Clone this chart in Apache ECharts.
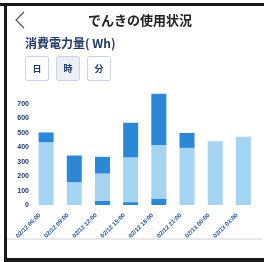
<!DOCTYPE html>
<html>
<head>
<meta charset="utf-8">
<script src="https://cdn.jsdelivr.net/npm/echarts@6/dist/echarts.min.js"></script>
<style>
  html, body { margin: 0; padding: 0; background: #fff; }
  #main { width: 264px; height: 262px; }
</style>
</head>
<body>
<div id="main"></div>
<script>
  // 時間帯
  var categories = ['02/12 06:00', '02/12 09:00', '02/12 12:00', '02/12 15:00',
                    '02/12 18:00', '02/12 21:00', '02/13 00:00', '02/13 03:00'];
  // 積み上げ（下・中・上）
  var lowData = [0, 0, 30, 20, 45, 0, 0, 0];
  var midData = [435, 158, 188, 310, 370, 396, 442, 473];
  var highData = [68, 185, 116, 240, 356, 104, 0, 0];
  var yTicks = [0, 100, 200, 300, 400, 500, 600, 700];
  var buttons = ['日', '時', '分'];

  var darkBlue = '#2c87d6';
  var lightBlue = '#a5d4f3';
  var navy = '#22396b';

  var btnGraphics = buttons.map(function (b, i) {
    return {
      type: 'group',
      left: 25 + i * 31,
      top: 56,
      children: [
        {
          type: 'rect',
          shape: { x: 0, y: 0, width: 23, height: 24, r: 2 },
          style: { fill: i === 1 ? '#eceff4' : '#fff', stroke: '#c8d2e4', lineWidth: 1 }
        },
        {
          type: 'text',
          x: 11.5, y: 12,
          style: { text: b, font: 'bold 9px "Noto Sans CJK JP"', fill: navy, align: 'center', verticalAlign: 'middle' }
        }
      ]
    };
  });

  var chart = echarts.init(document.getElementById('main'));
  chart.setOption({
    animation: false,
    backgroundColor: '#fff',
    grid: { left: 32, right: 6.5, top: 89.6, bottom: 57 },
    xAxis: {
      type: 'category',
      data: categories,
      axisLine: { show: false },
      axisTick: { show: false },
      axisLabel: {
        rotate: 45,
        interval: 0,
        margin: 3,
        padding: [0, 9, 0, 0],
        fontSize: 6,
        fontWeight: 'bold',
        color: '#1f4f9a'
      }
    },
    yAxis: {
      type: 'value',
      min: 0,
      max: 800,
      interval: 100,
      splitLine: { show: false },
      axisLine: { show: false },
      axisTick: { show: false },
      axisLabel: {
        margin: 3,
        fontSize: 7,
        fontWeight: 'bold',
        color: navy,
        showMaxLabel: false,
        formatter: function (v) { return yTicks.indexOf(v) >= 0 ? String(v) : ''; }
      }
    },
    series: [
      { name: 'low', type: 'bar', stack: 'w', barWidth: 15, data: lowData, itemStyle: { color: darkBlue } },
      { name: 'mid', type: 'bar', stack: 'w', barWidth: 15, data: midData, itemStyle: { color: lightBlue } },
      { name: 'high', type: 'bar', stack: 'w', barWidth: 15, data: highData, itemStyle: { color: darkBlue } }
    ],
    graphic: [
      // 画面の枠
      { type: 'rect', shape: { x: 0, y: 3, width: 264, height: 3 }, style: { fill: '#1a1a1a' } },
      { type: 'rect', shape: { x: 4, y: 3, width: 3, height: 259 }, style: { fill: '#1a1a1a' } },
      { type: 'rect', shape: { x: 4, y: 258, width: 260, height: 4 }, style: { fill: '#1a1a1a' } },
      { type: 'line', shape: { x1: 7, y1: 239, x2: 262, y2: 239 }, style: { stroke: '#d0d0d0', lineWidth: 1 } },
      // 戻る
      { type: 'polyline', shape: { points: [[24, 12], [16, 20], [24, 28]] }, style: { stroke: '#555', lineWidth: 1.2, fill: null } },
      { type: 'text', x: 140, y: 20, style: { text: 'でんきの使用状況', font: 'bold 13px "Noto Sans CJK JP"', fill: '#222', align: 'center', verticalAlign: 'middle' } },
      { type: 'text', x: 25, y: 43, style: { text: '消費電力量( Wh)', font: 'bold 12px "Noto Sans CJK JP"', fill: navy, align: 'left', verticalAlign: 'middle' } }
    ].concat(btnGraphics)
  });
</script>
</body>
</html>
